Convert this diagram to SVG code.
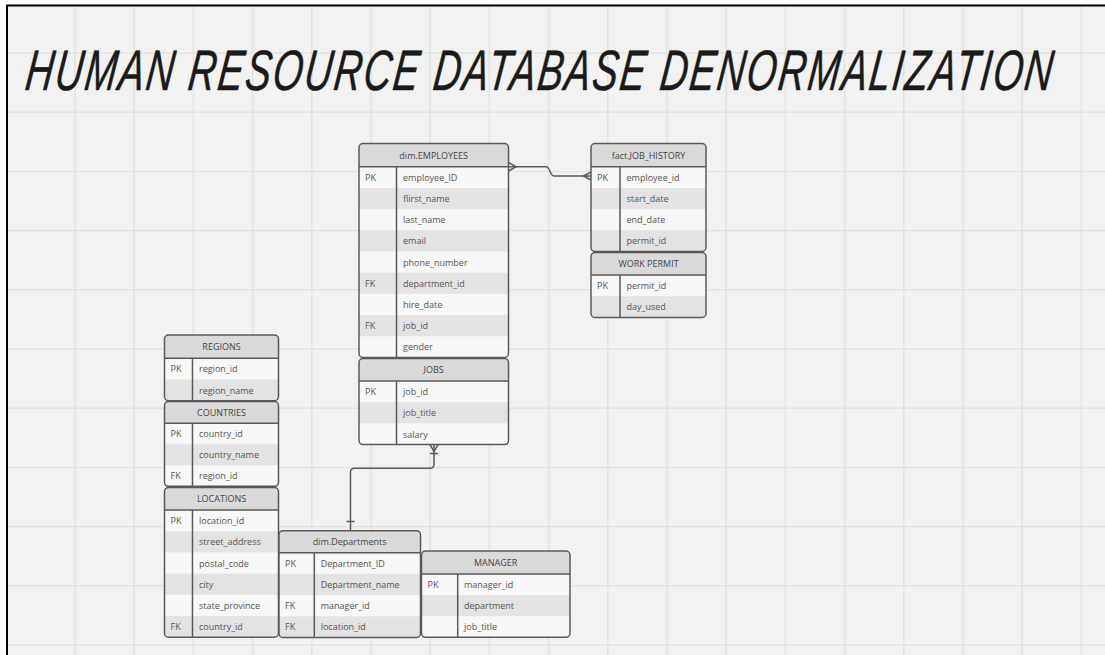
<svg xmlns="http://www.w3.org/2000/svg" width="1105" height="655" viewBox="0 0 1105 655">
<style>
.tb{fill:none;stroke:#595959;stroke-width:1.5}
.ln{stroke:#595959;stroke-width:1.5}
.hd{fill:#dadada}
.w{fill:#f8f8f8}
.g{fill:#e3e3e3}
.t{font-family:"Open Sans","Liberation Sans",sans-serif;font-size:9px;fill:#555;dominant-baseline:central}
.h{text-anchor:middle;fill:#444}
.con{fill:none;stroke:#5a5a5a;stroke-width:1.5}
.grid{stroke:#e2e2e2;stroke-width:1.5}
</style>
<defs>
<clipPath id="cE"><rect x="359" y="143.5" width="149.5" height="214" rx="4"/></clipPath>
<clipPath id="cJ"><rect x="359" y="358.5" width="149.5" height="86.1" rx="4"/></clipPath>
<clipPath id="cH"><rect x="591" y="143.5" width="115" height="108" rx="4"/></clipPath>
<clipPath id="cW"><rect x="591" y="252.5" width="115" height="64.9" rx="4"/></clipPath>
<clipPath id="cR"><rect x="164.5" y="335" width="114" height="65.7" rx="4"/></clipPath>
<clipPath id="cC"><rect x="164.5" y="401.5" width="114" height="84.8" rx="4"/></clipPath>
<clipPath id="cL"><rect x="164.5" y="487.5" width="114" height="149.7" rx="4"/></clipPath>
<clipPath id="cD"><rect x="279" y="530.7" width="141.5" height="106.8" rx="4"/></clipPath>
<clipPath id="cM"><rect x="421.5" y="551" width="148.5" height="86.3" rx="4"/></clipPath>
</defs>
<rect x="0" y="0" width="1105" height="655" fill="#ffffff"/>
<rect x="7" y="5.5" width="1098" height="650" fill="#f2f2f2"/>
<g id="grid" class="grid">
<path d="M75,6V655M134.2,6V655M193.4,6V655M252.6,6V655M311.8,6V655M371,6V655M430.2,6V655M489.4,6V655M548.6,6V655M607.8,6V655M667,6V655M726.2,6V655M785.4,6V655M844.6,6V655M903.8,6V655M963,6V655M1022.2,6V655M1081.4,6V655"/>
<path d="M8,53H1105M8,112.2H1105M8,171.4H1105M8,230.6H1105M8,289.8H1105M8,349H1105M8,408.2H1105M8,467.4H1105M8,526.6H1105M8,585.8H1105M8,645H1105"/>
</g>
<path d="M7,655V5.5H1105" fill="none" stroke="#000" stroke-width="2"/>
<g id="title" transform="translate(24,90) skewX(-7) scale(0.67,1)">
<text x="0" y="0" font-family="'Liberation Sans',sans-serif" font-size="57" font-style="italic" letter-spacing="3" fill="#1a1a1a" stroke="#1a1a1a" stroke-width="0.5" stroke-linejoin="round">HUMAN RESOURCE DATABASE DENORMALIZATION</text>
</g>

<g id="employees">
<g clip-path="url(#cE)">
<rect class="w" x="359" y="143.5" width="149.5" height="214"/>
<rect class="hd" x="359" y="143.5" width="149.5" height="23.2"/>
<rect class="g" x="359" y="187.9" width="149.5" height="21.2"/>
<rect class="g" x="359" y="230.3" width="149.5" height="21.2"/>
<rect class="g" x="359" y="272.7" width="149.5" height="21.2"/>
<rect class="g" x="359" y="315.1" width="149.5" height="21.2"/>
</g>
<line class="ln" x1="359" y1="166.7" x2="508.5" y2="166.7"/>
<line class="ln" x1="396.5" y1="166.7" x2="396.5" y2="357.5"/>
<rect class="tb" x="359" y="143.5" width="149.5" height="214" rx="4"/>
<text class="t h" x="433.7" y="155.1">dim.EMPLOYEES</text>
<text class="t" x="365" y="177.3">PK</text><text class="t" x="403" y="177.3">employee_ID</text>
<text class="t" x="403" y="198.5">flirst_name</text>
<text class="t" x="403" y="219.7">last_name</text>
<text class="t" x="403" y="240.9">email</text>
<text class="t" x="403" y="262.1">phone_number</text>
<text class="t" x="365" y="283.3">FK</text><text class="t" x="403" y="283.3">department_id</text>
<text class="t" x="403" y="304.5">hire_date</text>
<text class="t" x="365" y="325.7">FK</text><text class="t" x="403" y="325.7">job_id</text>
<text class="t" x="403" y="346.9">gender</text>
</g>

<g id="jobs">
<g clip-path="url(#cJ)">
<rect class="w" x="359" y="358.5" width="149.5" height="86.1"/>
<rect class="hd" x="359" y="358.5" width="149.5" height="22.5"/>
<rect class="g" x="359" y="402.2" width="149.5" height="21.2"/>
</g>
<line class="ln" x1="359" y1="381" x2="508.5" y2="381"/>
<line class="ln" x1="396.5" y1="381" x2="396.5" y2="444.6"/>
<rect class="tb" x="359" y="358.5" width="149.5" height="86.1" rx="4"/>
<text class="t h" x="433.7" y="369.8">JOBS</text>
<text class="t" x="365" y="391.6">PK</text><text class="t" x="403" y="391.6">job_id</text>
<text class="t" x="403" y="412.8">job_title</text>
<text class="t" x="403" y="434">salary</text>
</g>

<g id="job_history">
<g clip-path="url(#cH)">
<rect class="w" x="591" y="143.5" width="115" height="108"/>
<rect class="hd" x="591" y="143.5" width="115" height="23.2"/>
<rect class="g" x="591" y="187.9" width="115" height="21.2"/>
<rect class="g" x="591" y="230.3" width="115" height="21.2"/>
</g>
<line class="ln" x1="591" y1="166.7" x2="706" y2="166.7"/>
<line class="ln" x1="620" y1="166.7" x2="620" y2="251.5"/>
<rect class="tb" x="591" y="143.5" width="115" height="108" rx="4"/>
<text class="t h" x="648.5" y="155.1">fact.JOB_HISTORY</text>
<text class="t" x="597" y="177.3">PK</text><text class="t" x="626.5" y="177.3">employee_id</text>
<text class="t" x="626.5" y="198.5">start_date</text>
<text class="t" x="626.5" y="219.7">end_date</text>
<text class="t" x="626.5" y="240.9">permit_id</text>
</g>

<g id="work_permit">
<g clip-path="url(#cW)">
<rect class="w" x="591" y="252.5" width="115" height="64.9"/>
<rect class="hd" x="591" y="252.5" width="115" height="22.5"/>
<rect class="g" x="591" y="296.2" width="115" height="21.2"/>
</g>
<line class="ln" x1="591" y1="275" x2="706" y2="275"/>
<line class="ln" x1="620" y1="275" x2="620" y2="317.4"/>
<rect class="tb" x="591" y="252.5" width="115" height="64.9" rx="4"/>
<text class="t h" x="648.5" y="263.8">WORK PERMIT</text>
<text class="t" x="597" y="285.6">PK</text><text class="t" x="626.5" y="285.6">permit_id</text>
<text class="t" x="626.5" y="306.8">day_used</text>
</g>

<g id="regions">
<g clip-path="url(#cR)">
<rect class="w" x="164.5" y="335" width="114" height="65.7"/>
<rect class="hd" x="164.5" y="335" width="114" height="23.3"/>
<rect class="g" x="164.5" y="379.5" width="114" height="21.2"/>
</g>
<line class="ln" x1="164.5" y1="358.3" x2="278.5" y2="358.3"/>
<line class="ln" x1="192.5" y1="358.3" x2="192.5" y2="400.7"/>
<rect class="tb" x="164.5" y="335" width="114" height="65.7" rx="4"/>
<text class="t h" x="221.5" y="346.7">REGIONS</text>
<text class="t" x="170.5" y="368.9">PK</text><text class="t" x="199" y="368.9">region_id</text>
<text class="t" x="199" y="390.1">region_name</text>
</g>

<g id="countries">
<g clip-path="url(#cC)">
<rect class="w" x="164.5" y="401.5" width="114" height="84.8"/>
<rect class="hd" x="164.5" y="401.5" width="114" height="21.8"/>
<rect class="g" x="164.5" y="444.3" width="114" height="21"/>
</g>
<line class="ln" x1="164.5" y1="423.3" x2="278.5" y2="423.3"/>
<line class="ln" x1="192.5" y1="423.3" x2="192.5" y2="486.3"/>
<rect class="tb" x="164.5" y="401.5" width="114" height="84.8" rx="4"/>
<text class="t h" x="221.5" y="412.4">COUNTRIES</text>
<text class="t" x="170.5" y="433.8">PK</text><text class="t" x="199" y="433.8">country_id</text>
<text class="t" x="199" y="454.8">country_name</text>
<text class="t" x="170.5" y="475.8">FK</text><text class="t" x="199" y="475.8">region_id</text>
</g>

<g id="locations">
<g clip-path="url(#cL)">
<rect class="w" x="164.5" y="487.5" width="114" height="149.7"/>
<rect class="hd" x="164.5" y="487.5" width="114" height="22.5"/>
<rect class="g" x="164.5" y="531.2" width="114" height="21.2"/>
<rect class="g" x="164.5" y="573.6" width="114" height="21.2"/>
<rect class="g" x="164.5" y="616" width="114" height="21.2"/>
</g>
<line class="ln" x1="164.5" y1="510" x2="278.5" y2="510"/>
<line class="ln" x1="192.5" y1="510" x2="192.5" y2="637.2"/>
<rect class="tb" x="164.5" y="487.5" width="114" height="149.7" rx="4"/>
<text class="t h" x="221.5" y="498.8">LOCATIONS</text>
<text class="t" x="170.5" y="520.6">PK</text><text class="t" x="199" y="520.6">location_id</text>
<text class="t" x="199" y="541.8">street_address</text>
<text class="t" x="199" y="563">postal_code</text>
<text class="t" x="199" y="584.2">city</text>
<text class="t" x="199" y="605.4">state_province</text>
<text class="t" x="170.5" y="626.6">FK</text><text class="t" x="199" y="626.6">country_id</text>
</g>

<g id="departments">
<g clip-path="url(#cD)">
<rect class="w" x="279" y="530.7" width="141.5" height="106.8"/>
<rect class="hd" x="279" y="530.7" width="141.5" height="22"/>
<rect class="g" x="279" y="573.9" width="141.5" height="21.2"/>
<rect class="g" x="279" y="616.3" width="141.5" height="21.2"/>
</g>
<line class="ln" x1="279" y1="552.7" x2="420.5" y2="552.7"/>
<line class="ln" x1="314.3" y1="552.7" x2="314.3" y2="637.5"/>
<rect class="tb" x="279" y="530.7" width="141.5" height="106.8" rx="4"/>
<text class="t h" x="349.7" y="541.7">dim.Departments</text>
<text class="t" x="285" y="563.3">PK</text><text class="t" x="320.7" y="563.3">Department_ID</text>
<text class="t" x="320.7" y="584.5">Department_name</text>
<text class="t" x="285" y="605.7">FK</text><text class="t" x="320.7" y="605.7">manager_id</text>
<text class="t" x="285" y="626.9">FK</text><text class="t" x="320.7" y="626.9">location_id</text>
</g>

<g id="manager">
<g clip-path="url(#cM)">
<rect class="w" x="421.5" y="551" width="148.5" height="86.3"/>
<rect class="hd" x="421.5" y="551" width="148.5" height="23"/>
<rect class="g" x="421.5" y="595.1" width="148.5" height="21.1"/>
</g>
<line class="ln" x1="421.5" y1="574" x2="570" y2="574"/>
<line class="ln" x1="457.7" y1="574" x2="457.7" y2="637.3"/>
<rect class="tb" x="421.5" y="551" width="148.5" height="86.3" rx="4"/>
<text class="t h" x="495.7" y="562.5">MANAGER</text>
<text class="t" x="427.5" y="584.6">PK</text><text class="t" x="464" y="584.6">manager_id</text>
<text class="t" x="464" y="605.7">department</text>
<text class="t" x="464" y="626.8">job_title</text>
</g>

<g id="connectors" class="con">
<path d="M508.5,166.7H546C550.5,166.7 549.5,176 554,176H591"/>
<path d="M508.5,162.5L516,166.7L508.5,171"/>
<path d="M591,172L583.5,176L591,180"/>
<path d="M434,444.6V464.3Q434,468.3 430,468.3H354.5Q350.5,468.3 350.5,472.3V530.7"/>
<path d="M430,444.6L434,451.5L438,444.6"/>
<path d="M430,453.5H438"/>
<path d="M346.5,521.5H354.5"/>
</g>
</svg>
